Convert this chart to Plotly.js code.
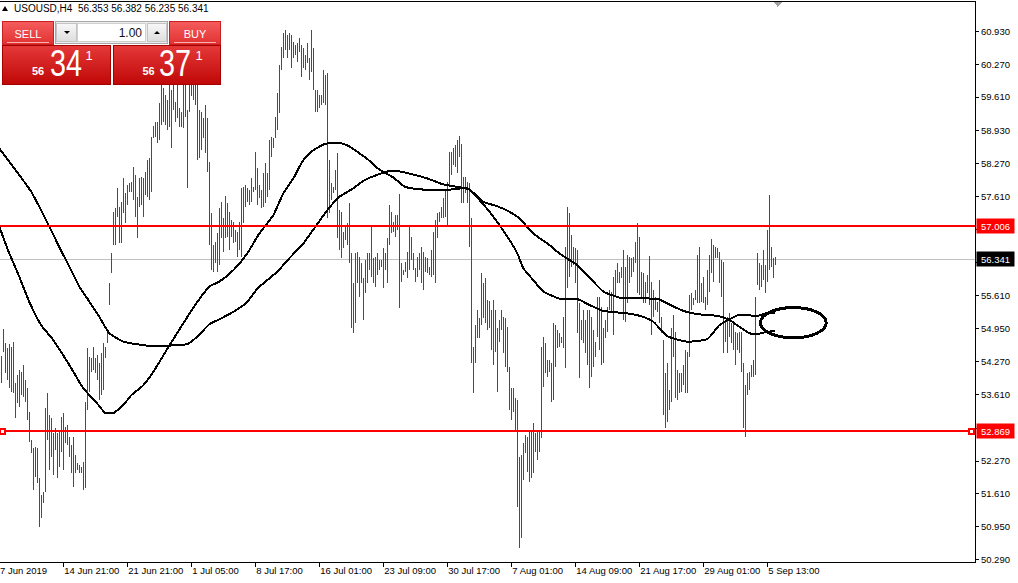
<!DOCTYPE html>
<html><head><meta charset="utf-8">
<script src="https://cdn.plot.ly/plotly-3.0.1.min.js"></script>
<style>
html,body{margin:0;padding:0;background:#fff;overflow:hidden}
#wrap{position:relative;width:1018px;height:583px}
#chart{position:absolute;left:0;top:0;width:1018px;height:583px}
.scatterlayer .js-line{shape-rendering:crispEdges}
.shapelayer path{shape-rendering:crispEdges}
#panel{position:absolute;left:0;top:0;width:230px;height:90px;font-family:'Liberation Sans',Arial,sans-serif}
#panel div,#panel span{position:absolute;box-sizing:border-box}
.hdr{left:14px;top:4px;font-size:10px;line-height:10px;color:#000;white-space:pre}
.tri{left:2px;top:6px;width:0;height:0;border-left:3px solid transparent;border-right:3px solid transparent;border-bottom:5px solid #000}
.btn{top:21px;height:24px;width:52px;background:linear-gradient(#f45c5c,#e23232);border:1px solid #c82020;color:#fff;font-size:11px;text-align:center;line-height:11px;padding-top:7px}
.btn::after{content:'';position:absolute;left:4px;right:4px;bottom:1px;height:1px;background:#f8b0b0}
.spin{left:55px;top:21px;width:113px;height:23px;background:#ececec;border:1px solid #a8a8a8}
.sbtn{top:1px;height:19px;width:21px;background:linear-gradient(#f7f7f7,#dedede);border:1px solid #c4c4c4}
.inp{left:21px;top:1px;width:69px;height:19px;background:#fff;border:1px solid #d0d0d0}
.big{top:45px;height:40px;background:linear-gradient(#e43838,#c00808);border:1px solid #a80000}
.t{color:#fff;white-space:pre;line-height:1}
</style></head><body>
<div id="wrap"><div id="chart"></div>
<div id="panel">
  <div class="tri"></div>
  <div class="hdr">USOUSD,H4  56.353 56.382 56.235 56.341</div>
  <div class="btn" style="left:2px">SELL</div>
  <div class="spin">
    <div class="sbtn" style="left:0px"><div style="left:7px;top:7px;width:0;height:0;border-left:3px solid transparent;border-right:3px solid transparent;border-top:3px solid #000"></div></div>
    <div class="inp"><span style="right:3px;top:3px;font-size:12px;line-height:12px;color:#111">1.00</span></div>
    <div class="sbtn" style="left:91px;width:20px"><div style="left:6px;top:7px;width:0;height:0;border-left:3px solid transparent;border-right:3px solid transparent;border-bottom:3px solid #000"></div></div>
  </div>
  <div class="btn" style="left:169px">BUY</div>
  <div class="big" style="left:2px;width:109px"></div>
  <div class="big" style="left:113px;width:108px"></div>
  <span class="t" style="left:32px;top:66.4px;font-size:11px;font-weight:bold">56</span>
  <span class="t" style="left:49.5px;top:45.5px;font-size:36px;transform:scaleX(0.8);transform-origin:0 0">34</span>
  <span class="t" style="left:85.5px;top:49px;font-size:13px">1</span>
  <span class="t" style="left:142.5px;top:66.4px;font-size:11px;font-weight:bold">56</span>
  <span class="t" style="left:159px;top:45.5px;font-size:36px;transform:scaleX(0.8);transform-origin:0 0">37</span>
  <span class="t" style="left:195.5px;top:49px;font-size:13px">1</span>
</div>
</div>
<script>
// H4 bars, bar index starts at 1
const firstBar = 1;
const highs = [
54.39,54.93,54.65,54.55,54.63,54.57,54.67,53.84,54.00,54.11,
54.07,54.21,53.90,53.74,53.26,52.69,52.53,52.55,52.53,51.93,
51.58,51.64,53.34,53.64,53.20,53.14,52.83,52.94,52.83,52.90,
53.16,53.24,52.96,53.00,52.76,52.59,52.76,52.39,52.23,52.19,
52.15,52.25,53.46,54.55,54.37,54.35,54.57,54.35,54.41,54.25,
54.45,54.65,54.57,54.91,55.86,56.47,57.29,57.37,57.78,57.39,
57.49,57.98,57.68,57.84,57.88,57.90,58.20,58.04,57.60,57.98,
58.00,57.98,58.10,58.34,58.38,58.81,59.03,59.11,59.11,59.49,
59.85,59.79,59.65,59.55,59.85,59.75,59.95,59.51,59.91,59.39,
59.31,59.85,59.95,59.35,59.95,59.99,59.95,59.91,59.85,59.35,
59.31,59.19,59.45,59.19,58.30,57.27,56.63,56.69,56.87,57.37,
57.49,57.17,57.62,57.47,57.29,57.13,57.09,56.93,56.89,57.09,
57.78,57.80,57.84,57.78,57.74,57.98,57.80,58.50,58.18,57.84,
57.74,58.08,58.28,58.08,58.75,58.81,58.79,59.21,59.69,60.26,
60.62,60.90,60.96,60.86,60.90,60.86,60.72,60.66,60.70,60.80,
60.66,60.60,60.46,60.70,60.40,60.96,60.60,59.75,59.75,59.65,
59.65,60.16,60.06,60.10,58.34,57.88,57.80,58.14,58.48,57.33,
57.29,56.89,56.99,57.07,57.47,56.47,55.86,56.47,56.49,56.39,
56.26,55.96,56.33,56.47,56.47,57.03,56.37,56.39,56.47,56.33,
56.33,56.57,56.47,56.77,57.43,57.29,57.09,57.23,57.23,57.66,
56.26,56.12,56.28,56.49,56.99,56.79,56.47,56.16,56.39,56.47,
56.59,56.49,56.39,56.37,56.18,56.53,56.89,57.13,57.27,57.29,
57.39,57.58,57.74,57.90,58.50,58.50,58.58,58.65,58.75,58.83,
58.67,58.00,58.00,57.90,57.88,57.17,54.57,55.01,55.32,55.15,
56.06,55.86,55.96,55.52,55.50,55.32,55.52,55.32,54.95,55.12,
55.32,55.18,55.15,54.97,54.17,53.74,53.74,53.54,53.50,52.35,
52.39,52.63,52.80,52.76,52.86,52.86,53.04,52.84,52.86,52.86,
54.57,54.77,54.65,54.31,54.31,54.25,55.05,55.01,54.91,54.85,
54.77,55.18,56.59,57.39,57.27,56.83,56.59,56.57,56.53,55.46,
55.12,55.32,55.12,55.32,55.32,55.18,54.91,54.67,55.58,55.58,
55.38,54.95,55.12,55.38,55.72,55.68,55.98,56.12,56.26,56.08,
56.18,56.53,56.18,56.43,56.39,56.37,56.39,56.69,57.07,56.79,
56.08,56.06,55.88,56.02,56.41,55.88,55.72,55.58,55.48,55.92,
55.18,54.71,54.05,54.25,53.70,54.95,55.22,54.87,54.11,54.05,
54.05,54.21,54.51,54.47,55.62,55.66,55.56,55.72,56.43,56.59,
55.86,55.98,55.58,56.12,56.43,56.75,56.63,56.59,56.57,56.49,
56.33,56.28,55.12,55.18,55.26,55.05,55.05,54.87,54.85,54.87,
54.87,54.25,53.80,54.05,54.07,54.21,54.31,55.58,56.47,56.26,
56.22,56.53,56.22,56.93,57.64,56.59,56.37,56.382
];
const lows = [
53.84,54.47,54.05,53.90,53.74,53.66,53.64,53.14,53.44,53.36,
53.60,53.56,53.46,53.10,52.65,52.43,51.69,51.95,51.83,50.94,
51.12,51.42,51.64,52.69,52.09,52.35,51.99,52.49,51.93,52.15,
52.45,52.09,52.63,52.59,52.35,52.03,51.75,52.03,52.09,52.03,
52.03,51.69,51.73,53.30,53.66,54.07,54.11,54.05,53.90,53.50,
53.60,53.70,54.35,54.65,55.42,56.06,56.63,56.63,57.19,56.67,
56.67,57.27,57.07,57.43,57.70,57.70,57.53,57.19,56.77,57.39,
57.43,57.19,57.64,57.60,57.53,57.70,58.79,58.81,58.68,58.74,
59.05,59.11,59.05,58.95,59.01,58.58,59.35,59.11,59.19,59.01,
59.01,58.99,59.21,57.78,59.31,59.63,59.55,59.45,58.34,58.38,
58.54,58.79,58.48,58.10,56.63,56.12,56.08,56.26,56.08,56.22,
56.77,56.49,56.77,56.79,56.53,56.79,56.67,56.69,56.39,56.53,
56.39,57.07,57.39,57.49,57.43,57.49,57.70,57.74,57.43,57.58,
57.37,57.39,57.47,57.60,57.74,58.40,58.58,58.79,58.95,59.29,
60.16,60.40,60.56,60.40,60.56,60.20,60.40,60.46,60.32,60.52,
60.02,60.20,60.16,60.30,59.95,60.12,59.75,59.31,59.31,59.39,
59.45,59.49,59.45,57.17,57.27,57.53,57.68,57.74,56.77,56.53,
56.37,56.57,56.73,56.63,56.26,54.95,54.85,55.05,55.86,55.58,
55.86,55.12,55.66,55.86,56.12,55.98,55.86,55.78,56.02,56.12,
56.18,55.76,56.12,55.86,56.63,56.87,56.89,56.79,56.93,55.36,
55.88,56.02,56.08,55.96,56.12,56.33,56.12,55.88,55.98,56.12,
55.86,55.72,56.08,56.06,56.02,55.98,56.02,55.86,56.77,57.09,
57.17,57.17,57.19,56.99,57.80,58.04,58.24,58.20,58.08,58.40,
57.47,57.47,57.68,57.47,56.59,54.25,53.64,54.25,54.75,54.75,
55.01,55.15,55.05,54.91,54.95,54.51,54.21,54.47,53.66,54.67,
54.91,54.45,54.17,54.07,53.30,53.10,53.26,52.90,51.34,50.52,
50.72,51.89,52.43,52.05,51.85,51.93,52.03,52.45,52.29,52.45,
52.74,53.76,54.05,53.97,54.07,53.46,53.50,54.17,54.55,54.57,
54.65,54.55,54.15,55.76,55.98,56.18,56.22,55.86,54.85,53.94,
54.71,54.65,54.45,54.21,53.74,53.97,54.17,54.37,54.77,54.51,
54.21,54.25,54.75,54.87,55.32,55.26,54.81,55.58,55.86,55.86,
55.96,55.12,55.07,55.46,55.86,55.98,56.08,56.26,55.66,55.62,
55.56,55.46,55.46,55.66,55.42,54.81,55.18,55.32,55.28,55.05,
54.85,53.20,52.94,53.06,53.30,53.46,54.37,53.54,53.50,53.64,
53.66,53.80,53.64,53.64,54.37,55.32,55.42,55.52,55.46,55.46,
55.48,55.46,55.32,55.42,55.68,56.06,55.88,56.37,56.37,55.86,
55.58,54.45,54.67,54.45,54.77,54.65,54.51,54.21,54.51,54.45,
54.07,52.94,52.75,53.60,53.70,53.97,53.97,54.01,55.82,55.72,
55.78,55.92,55.66,55.88,56.12,56.18,55.96,56.235
];
// 1 = green bar, 0 = red bar
const dirs = [
0,1,1,0,1,1,1,1,0,1, 1,1,0,1,1,1,0,1,1,1, 0,0,0,0,1,1,1,0,1,0, 0,1,0,1,1,1,1,1,0,0,
1,1,0,0,0,1,1,1,1,1, 0,0,0,0,0,0,0,0,1,1, 0,0,0,0,1,1,0,0,0,0, 0,0,1,0,1,0,0,0,0,1,
1,1,1,0,1,0,0,1,0,1, 1,0,1,1,1,0,1,0,1,0, 0,1,1,1,1,1,0,1,0,0, 1,0,1,1,0,1,1,1,1,0,
0,1,1,1,0,1,1,1,0,0, 1,0,1,0,0,0,0,0,0,0, 0,1,0,1,1,1,0,0,0,1, 0,1,1,0,0,0,1,1,1,0,
1,0,0,1,0,0,1,0,1,1, 1,0,1,1,1,1,0,0,1,0, 1,0,1,1,0,0,1,0,1,0, 0,0,1,0,0,1,0,0,1,1,
0,0,1,0,1,0,1,0,0,1, 0,1,0,1,0,1,0,0,0,0, 0,0,0,0,0,0,1,0,0,0, 1,0,1,1,1,0,0,0,0,0,
1,0,1,1,0,1,1,1,0,1, 0,0,1,1,1,0,1,1,1,1, 0,0,1,1,1,0,0,1,1,0, 0,0,1,1,1,1,1,1,1,1,
1,1,0,0,1,1,1,1,1,1, 0,1,1,0,0,1,1,0,0,1, 1,0,0,0,1,1,0,0,0,1, 0,1,0,1,1,0,0,0,0,1,
1,1,0,1,1,1,0,1,0,1, 1,1,0,0,0,0,0,1,0,1, 0,1,0,0,0,1,0,0,0,1, 0,0,1,0,0,1,0,1,1,0,
0,1,0,0,1,0,1,1,1,0, 1,1,0,0,0,1,1,0,0,0, 0,1,0,0,1,1,0,1
];
// Moving averages (bar index, price)
const maAx = [0,5,10,16,20,25,30,35,40,44,50,55,62,74,85,94,99,105,110,117,124,129,134,139,145,152,157,164,170,177,182,190,197,205,214,222,229,235,242,249,255,260,267,275,280,289,297,302,310,320,330,335,342,350,359,365,370,375,379,384,388];
const maA = [58.58,58.31,58.04,57.70,57.40,57.00,56.59,56.19,55.79,55.55,55.18,54.85,54.68,54.60,54.60,54.63,54.78,55.03,55.13,55.28,55.48,55.75,55.92,56.09,56.36,56.66,56.94,57.33,57.60,57.77,57.92,58.06,58.13,58.07,57.97,57.85,57.80,57.75,57.50,57.41,57.30,57.17,56.86,56.63,56.46,56.22,55.89,55.69,55.57,55.56,55.53,55.43,55.30,55.23,55.20,55.12,54.98,54.85,54.83,54.88,54.89];
const maBx = [0,5,10,15,21,27,35,42,49,53,57,62,66,72,77,85,92,99,105,110,117,124,130,137,142,147,152,157,163,169,174,180,185,190,197,203,214,224,234,240,247,254,259,262,267,272,280,289,295,302,314,322,327,334,344,354,360,365,370,379,384,388];
const maB = [57.00,56.46,55.99,55.48,55.01,54.71,54.21,53.74,53.43,53.24,53.24,53.40,53.60,53.80,54.07,54.60,55.05,55.48,55.79,55.89,56.12,56.46,56.86,57.23,57.67,57.97,58.34,58.54,58.67,58.69,58.64,58.48,58.33,58.15,57.99,57.80,57.74,57.74,57.77,57.54,57.20,56.80,56.46,56.16,55.92,55.69,55.55,55.54,55.42,55.30,55.25,55.18,55.08,54.79,54.68,54.73,55.01,55.13,55.22,55.20,55.26,55.26];
// axis ticks
const xTickIdx = [0,32,64,96,128,160,192,224,256,288,320,352,384];
const xTickText = ['7 Jun 2019','14 Jun 21:00','21 Jun 21:00','1 Jul 05:00','8 Jul 17:00','16 Jul 01:00','23 Jul 09:00','30 Jul 17:00','7 Aug 01:00','14 Aug 09:00','21 Aug 17:00','29 Aug 01:00','5 Sep 13:00'];
const yTicks = [60.93,60.27,59.61,58.93,58.27,57.61,56.95,56.27,55.61,54.95,54.27,53.61,52.93,52.27,51.61,50.95,50.29];
// levels
const levels = [57.006, 52.869];
const bid = 56.341;
const ellipse = {x0:380.6, x1:413.45, y0:54.756, y1:55.367};
const shiftMarkIdx = 389.3;

function barTrace(flag, color){
  const x=[], y=[];
  highs.forEach((h,i)=>{ if(dirs[i]===flag){ const k=firstBar+i; x.push(k,k,null); y.push(lows[i],h,null);} });
  return {type:'scatter',mode:'lines',x:x,y:y,line:{color:color,width:1},hoverinfo:'skip',showlegend:false,connectgaps:false};
}
const traces = [
  barTrace(1,'#0b780b'),
  barTrace(0,'#ff0000'),
  {type:'scatter',mode:'lines',x:maBx,y:maB,line:{color:'#000',width:2,shape:'spline',smoothing:0.5},hoverinfo:'skip'},
  {type:'scatter',mode:'lines',x:maAx,y:maA,line:{color:'#000',width:2,shape:'spline',smoothing:0.5},hoverinfo:'skip'}
];
const FONT = 'Liberation Sans, Arial, sans-serif';
const shapes = [
  {type:'line',xref:'paper',x0:0,x1:1,yref:'y',y0:bid,y1:bid,line:{color:'#c0c0c0',width:1},layer:'below'}
];
levels.forEach(l=>shapes.push({type:'line',xref:'paper',x0:0,x1:1,yref:'y',y0:l,y1:l,line:{color:'#ff0000',width:2},layer:'above'}));
[0,1].forEach(px=>shapes.push({type:'rect',xref:'paper',yref:'y',xsizemode:'pixel',ysizemode:'pixel',xanchor:px,yanchor:levels[1],x0:px?-6:0,x1:px?-1:5,y0:-2.5,y1:2.5,line:{color:'#ff0000',width:1.5},fillcolor:'#ffffff',layer:'above'}));
shapes.push({type:'circle',xref:'x',yref:'y',x0:ellipse.x0,x1:ellipse.x1,y0:ellipse.y0,y1:ellipse.y1,line:{color:'#000',width:3},layer:'above'});
shapes.push({type:'path',xref:'x',yref:'paper',xsizemode:'pixel',ysizemode:'pixel',xanchor:shiftMarkIdx,yanchor:1,path:'M -4.5,0 L 4.5,0 L 0,-5 Z',fillcolor:'#a0a0a0',line:{width:0},layer:'above'});

// y tick labels hidden behind the price labels are left blank
const hidden = [56.95, 56.27, 52.93];
const yTickText = yTicks.map(v => hidden.includes(v) ? '' : v.toFixed(3));

const annotations = [];
[[levels[0],'#ff0000'],[bid,'#000000'],[levels[1],'#ff0000']].forEach(([v,c])=>{
  annotations.push({xref:'paper',x:1,xanchor:'left',xshift:1,yref:'y',y:v,yanchor:'middle',text:v.toFixed(3),showarrow:false,bgcolor:c,width:35,height:12,borderpad:1,font:{family:FONT,size:9.5,color:'#fff'}});
});
annotations.push({xref:'paper',x:0,xanchor:'left',xshift:-2,yref:'paper',y:0,yanchor:'top',yshift:-1,text:xTickText[0],showarrow:false,font:{family:FONT,size:9.5,color:'#000'}});

const layout = {
  width:1018,height:583,margin:{l:0,r:43,t:2,b:21,pad:0},
  paper_bgcolor:'#fff',plot_bgcolor:'#fff',showlegend:false,
  font:{family:FONT,size:9.5,color:'#000'},
  xaxis:{range:[0.35,487.85],showgrid:false,zeroline:false,showline:true,linecolor:'#000',linewidth:1,mirror:true,
         ticks:'outside',ticklen:4,tickcolor:'#000',tickvals:xTickIdx.slice(1),ticktext:xTickText.slice(1),
         ticklabelposition:'outside right',tickangle:0,fixedrange:true},
  yaxis:{side:'right',range:[50.236,61.529],showgrid:false,zeroline:false,showline:true,linecolor:'#000',linewidth:1,
         ticks:'outside',ticklen:3,tickcolor:'#000',tickvals:yTicks,ticktext:yTickText,fixedrange:true},
  shapes:shapes,annotations:annotations
};
Plotly.newPlot('chart',traces,layout,{staticPlot:true,displayModeBar:false});
</script>
</body></html>
